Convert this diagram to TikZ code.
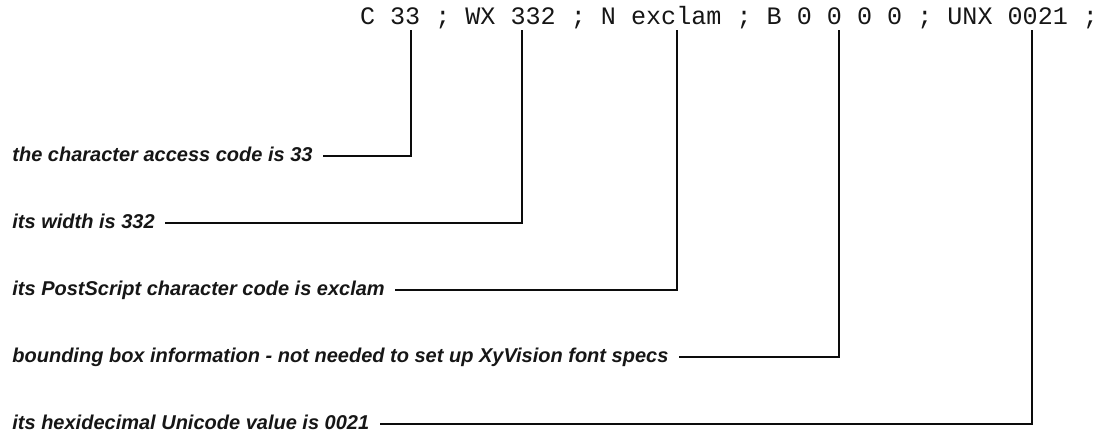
\documentclass[tikz,border=0pt]{standalone}
\usepackage{fontspec}
\usepackage{tikz}
\usetikzlibrary{positioning}
\newfontfamily\recordfont{Liberation Mono}
\newfontfamily\notefont{Liberation Sans}
\definecolor{ink}{RGB}{22,22,22}
\definecolor{rule}{RGB}{12,12,12}
\tikzset{
    field/.style={
        inner xsep=0pt,
        inner ysep=2.5pt,
        outer sep=0pt,
        text depth=0pt,
        text=ink,
        font=\recordfont\fontsize{12.55}{15}\selectfont
    },
    note/.style={
        anchor=west,
        inner xsep=5pt,
        inner ysep=0pt,
        text height=7.2pt,
        text depth=1.5pt,
        text=ink,
        font=\notefont\bfseries\itshape\fontsize{10}{12}\selectfont
    },
    leader/.style={
        draw=rule,
        line width=1pt
    }
}

\begin{document}
\begin{tikzpicture}[x=0.5pt, y=-0.5pt, node distance=7.53pt]
\useasboundingbox (0,0) rectangle (1105,439);

% === AFM metric record, one field per node ===
\node[field, anchor=base west] (fC) at (360,25) {C};
\node[field, base right=of fC] (fcode) {33};
\node[field, base right=of fcode] (fsep1) {;};
\node[field, base right=of fsep1] (fWX) {WX};
\node[field, base right=of fWX] (fwidth) {332};
\node[field, base right=of fwidth] (fsep2) {;};
\node[field, base right=of fsep2] (fN) {N};
\node[field, base right=of fN] (fname) {exclam};
\node[field, base right=of fname] (fsep3) {;};
\node[field, base right=of fsep3] (fB) {B};
\node[field, base right=of fB] (fbox1) {0};
\node[field, base right=of fbox1] (fbox2) {0};
\node[field, base right=of fbox2] (fbox3) {0};
\node[field, base right=of fbox3] (fbox4) {0};
\node[field, base right=of fbox4] (fsep4) {;};
\node[field, base right=of fsep4] (fUNX) {UNX};
\node[field, base right=of fUNX] (funicode) {0021};
\node[field, base right=of funicode] (fsep5) {;};

% === Explanations ===
\node[note] (codenote) at (2,156) {the character access code is 33};
\node[note] (widthnote) at (2,223) {its width is 332};
\node[note] (namenote) at (2,290) {its PostScript character code is exclam};
\node[note] (boxnote) at (2,357) {bounding box information - not needed to set up XyVision font specs};
\node[note] (unicodenote) at (2,424) {its hexidecimal Unicode value is 0021};

% Leaders: down from the field, across to its note
\draw[leader] ([xshift=3pt]fcode.south) |- (codenote.east);
\draw[leader] ([xshift=-5.5pt]fwidth.south) |- (widthnote.east);
\draw[leader] ([xshift=0.5pt]fname.south) |- (namenote.east);
\draw[leader] ([xshift=2.5pt]fbox2.south) |- (boxnote.east);
\draw[leader] ([xshift=-3pt]funicode.south) |- (unicodenote.east);

\end{tikzpicture}
\end{document}
